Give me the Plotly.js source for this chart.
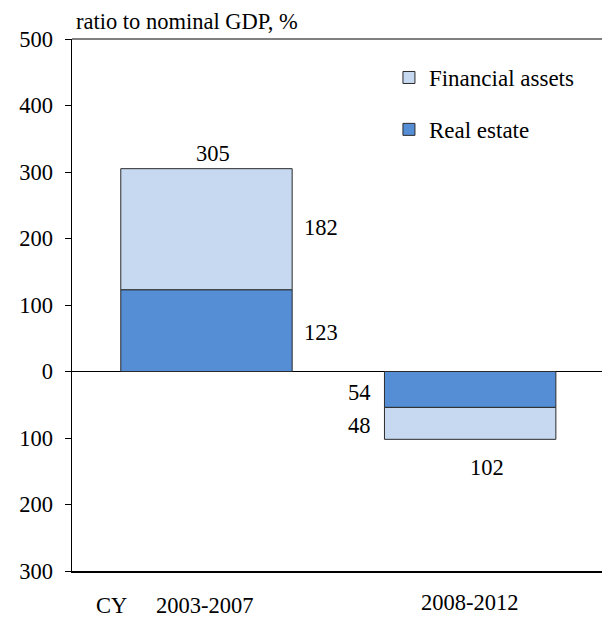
<!DOCTYPE html>
<html>
<head>
<meta charset="utf-8">
<script src="https://cdn.plot.ly/plotly-3.0.1.min.js"></script>
<style>
  html, body { margin: 0; padding: 0; background: #ffffff; }
  #chart { width: 602px; height: 617px; }
</style>
</head>
<body>
<div id="chart"></div>
<script>
// ---- Data ----
const categories = ["2003-2007", "2008-2012"];
const xAxisPrefix = "CY";
const realEstate = [123, -54];
const financialAssets = [182, -48];
const seriesNames = ["Real estate", "Financial assets"];
const yTickVals = [-300, -200, -100, 0, 100, 200, 300, 400, 500];
const yTickText = ["300", "200", "100", "0", "100", "200", "300", "400", "500"];
const yTitle = "ratio to nominal GDP, %";

// ---- Style ----
const FONT = "Liberation Serif";
const FS = 22.5;
const darkBlue = "#558ED5";
const lightBlue = "#C6D9F1";
const outline = "#2b2b2b";

const traces = [
  {
    type: "bar",
    name: seriesNames[0],
    x: categories,
    y: realEstate,
    width: 0.65,
    marker: { color: darkBlue, line: { color: outline, width: 1 } },
    legendgroup: "re",
    legendrank: 2,
    hoverinfo: "skip"
  },
  {
    type: "bar",
    name: seriesNames[1],
    x: categories,
    y: financialAssets,
    width: 0.65,
    marker: { color: lightBlue, line: { color: outline, width: 1 } },
    legendgroup: "fa",
    legendrank: 1,
    hoverinfo: "skip"
  }
];

const annotations = [];
const txtFont = { family: FONT, size: FS, color: "#000000" };
categories.forEach((c, i) => {
  const re = realEstate[i];
  const fa = financialAssets[i];
  const total = re + fa;
  const pos = total >= 0;
  // segment value labels beside the bar
  annotations.push({
    x: c, y: re / 2, xref: "x", yref: "y", text: String(Math.abs(re)),
    showarrow: false, font: txtFont,
    xanchor: pos ? "left" : "right", xshift: pos ? 96 : -97, yanchor: "middle", yshift: pos ? -2 : -3
  });
  annotations.push({
    x: c, y: re + fa / 2, xref: "x", yref: "y", text: String(Math.abs(fa)),
    showarrow: false, font: txtFont,
    xanchor: pos ? "left" : "right", xshift: pos ? 96 : -97, yanchor: "middle", yshift: pos ? 2 : -2
  });
  // total label
  annotations.push({
    x: c, y: total, xref: "x", yref: "y", text: String(Math.abs(total)),
    showarrow: false, font: txtFont,
    xanchor: "center", xshift: pos ? 7 : 17,
    yanchor: pos ? "bottom" : "top", yshift: pos ? 1 : -14
  });
  // category labels
  annotations.push({
    x: c, y: 0, xref: "x", yref: "paper", text: c,
    showarrow: false, font: txtFont,
    xanchor: "center", yanchor: "middle",
    xshift: i === 0 ? -1 : 0, yshift: i === 0 ? -34 : -31
  });
});
annotations.push({
  x: categories[0], y: 0, xref: "x", yref: "paper", text: xAxisPrefix,
  showarrow: false, font: txtFont,
  xanchor: "center", yanchor: "middle", xshift: -95, yshift: -34
});

const layout = {
  width: 602,
  height: 617,
  margin: { l: 72, r: 0, t: 39, b: 46 },
  paper_bgcolor: "#ffffff",
  plot_bgcolor: "#ffffff",
  barmode: "relative",
  bargap: 0.35,
  showlegend: true,
  legend: {
    x: 0.598, y: 0.968, xanchor: "left", yanchor: "top",
    traceorder: "grouped",
    tracegroupgap: 19,
    font: { family: FONT, size: 23, color: "#000000" },
    bgcolor: "rgba(0,0,0,0)",
    itemclick: false, itemdoubleclick: false
  },
  title: {
    text: yTitle,
    font: { family: FONT, size: 22.5, color: "#000000" },
    xref: "paper", x: 0.0, xanchor: "left",
    yref: "container", y: 1 - 21 / 617, yanchor: "middle",
    pad: { l: 4 }
  },
  xaxis: {
    type: "category",
    range: [-0.51, 1.5],
    showticklabels: false,
    ticks: "",
    showgrid: false,
    zeroline: false,
    showline: true,
    linecolor: "#000000",
    linewidth: 1.5,
    fixedrange: true
  },
  yaxis: {
    range: [-300, 500],
    tickvals: yTickVals,
    ticktext: yTickText,
    ticks: "outside",
    ticklen: 6,
    tickcolor: "#000000",
    tickwidth: 1,
    tickfont: { family: FONT, size: FS, color: "#000000" },
    ticklabelstandoff: 7,
    showgrid: false,
    zeroline: true,
    zerolinecolor: "#000000",
    zerolinewidth: 1,
    showline: true,
    linecolor: "#000000",
    linewidth: 1.5,
    fixedrange: true
  },
  shapes: [
    { type: "line", xref: "paper", yref: "paper", x0: 0, x1: 1, y0: 1, y1: 1,
      line: { color: "#808080", width: 2 } }
  ],
  annotations: annotations
};

Plotly.newPlot("chart", traces, layout, { displayModeBar: false, staticPlot: true });
</script>
</body>
</html>
